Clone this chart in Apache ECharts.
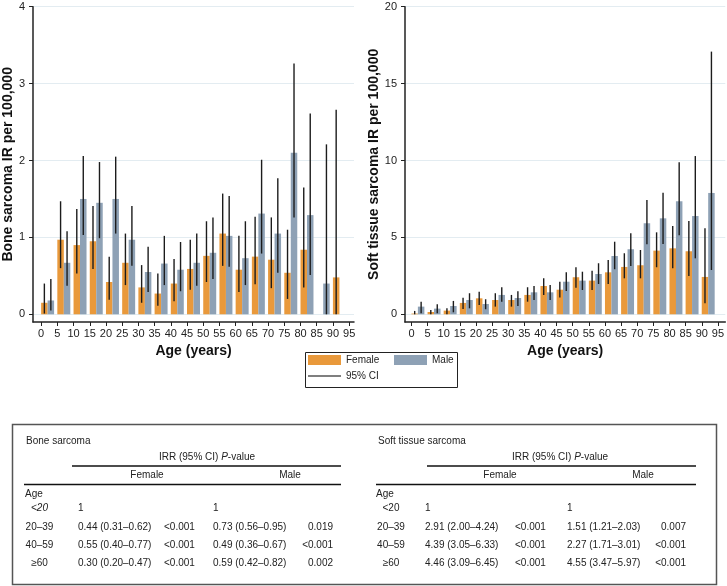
<!DOCTYPE html>
<html>
<head>
<meta charset="utf-8">
<title>Sarcoma IR by age</title>
<script src="https://cdn.jsdelivr.net/npm/echarts@6/dist/echarts.min.js"></script>
<style>
html, body { margin: 0; padding: 0; background: #fff; }
#main { width: 727px; height: 586px; }
</style>
</head>
<body>
<div id="main"></div>
<script>
// age groups (start of each 5-year band) and axis ticks
var ages = [0, 5, 10, 15, 20, 25, 30, 35, 40, 45, 50, 55, 60, 65, 70, 75, 80, 85, 90];
var ageTicks = [0, 5, 10, 15, 20, 25, 30, 35, 40, 45, 50, 55, 60, 65, 70, 75, 80, 85, 90, 95];
var boneTicks = [0, 1, 2, 3, 4];
var softTicks = [0, 5, 10, 15, 20];

// bone sarcoma IR per 100,000
var boneFemale     = [0.15, 0.97, 0.90, 0.95, 0.42, 0.67, 0.35, 0.27, 0.40, 0.59, 0.76, 1.05, 0.58, 0.75, 0.71, 0.54, 0.84, null, 0.48];
var boneFemaleLow  = [0.01, 0.60, 0.53, 0.59, 0.19, 0.38, 0.15, 0.11, 0.17, 0.32, 0.42, 0.63, 0.29, 0.39, 0.34, 0.20, 0.35, null, 0.00];
var boneFemaleHigh = [0.40, 1.47, 1.37, 1.41, 0.75, 1.05, 0.64, 0.53, 0.72, 0.97, 1.21, 1.57, 1.02, 1.27, 1.26, 1.10, 1.65, null, 2.66];
var boneMale       = [0.18, 0.67, 1.50, 1.45, 1.50, 0.97, 0.55, 0.66, 0.58, 0.67, 0.80, 1.02, 0.73, 1.31, 1.05, 2.10, 1.29, 0.40, null];
var boneMaleLow    = [0.05, 0.37, 1.03, 0.99, 1.05, 0.63, 0.29, 0.38, 0.30, 0.37, 0.46, 0.62, 0.38, 0.79, 0.54, 1.26, 0.51, 0.00, null];
var boneMaleHigh   = [0.46, 1.08, 2.06, 1.98, 2.05, 1.41, 0.88, 1.02, 0.94, 1.05, 1.26, 1.54, 1.21, 2.01, 1.77, 3.26, 2.61, 2.21, null];

// soft tissue sarcoma IR per 100,000
var softFemale     = [0.05, 0.15, 0.24, 0.74, 1.04, 0.93, 0.93, 1.26, 1.84, 1.60, 2.41, 2.19, 2.73, 3.08, 3.19, 4.14, 4.29, 4.10, 2.43];
var softFemaleLow  = [0.00, 0.00, 0.00, 0.35, 0.61, 0.50, 0.50, 0.82, 1.26, 1.10, 1.73, 1.58, 1.97, 2.34, 2.34, 3.06, 2.99, 2.49, 0.72];
var softFemaleHigh = [0.22, 0.28, 0.39, 1.08, 1.47, 1.37, 1.26, 1.76, 2.34, 2.12, 3.06, 2.84, 3.53, 3.97, 4.18, 5.33, 5.74, 6.07, 5.59];
var softMale       = [0.50, 0.37, 0.54, 0.93, 0.67, 1.26, 1.06, 1.43, 1.43, 2.12, 2.19, 2.62, 3.79, 4.23, 5.92, 6.24, 7.35, 6.39, 7.89];
var softMaleLow    = [0.07, 0.07, 0.13, 0.39, 0.33, 0.82, 0.54, 0.93, 0.93, 1.52, 1.58, 1.97, 2.93, 3.14, 4.55, 4.57, 5.14, 3.64, 2.88];
var softMaleHigh   = [0.82, 0.65, 0.87, 1.37, 0.98, 1.76, 1.50, 1.84, 1.91, 2.73, 2.77, 3.32, 4.72, 5.27, 7.43, 7.91, 9.88, 10.29, 17.08];

// IRR table
var tableHead = ['Female', 'Male'];
var ageRows = ['<20', '20–39', '40–59', '≥60'];
var boneRows = [
    ['1', '', '1', ''],
    ['0.44 (0.31–0.62)', '<0.001', '0.73 (0.56–0.95)', '0.019'],
    ['0.55 (0.40–0.77)', '<0.001', '0.49 (0.36–0.67)', '<0.001'],
    ['0.30 (0.20–0.47)', '<0.001', '0.59 (0.42–0.82)', '0.002']
];
var softRows = [
    ['1', '', '1', ''],
    ['2.91 (2.00–4.24)', '<0.001', '1.51 (1.21–2.03)', '0.007'],
    ['4.39 (3.05–6.33)', '<0.001', '2.27 (1.71–3.01)', '<0.001'],
    ['4.46 (3.09–6.45)', '<0.001', '4.55 (3.47–5.97)', '<0.001']
];

var FONT = '"Liberation Sans", Arial, sans-serif';
var ORANGE = '#E9993B';
var BLUE = '#8EA1B5';
var FEMALE_SHIFT = 1, MALE_SHIFT = 3;   // bars sit right of the group tick

function barData(vals, shift) {
    return ages.map(function(a, i) {
        return [a + shift, vals[i] == null ? '-' : vals[i]];
    });
}

function ciData(lo, hi, shift, out) {
    ages.forEach(function(a, i) {
        if (lo[i] != null) out.push([a + shift, lo[i], hi[i]]);
    });
    return out;
}

function renderCI(params, api) {
    var p1 = api.coord([api.value(0), api.value(1)]);
    var p2 = api.coord([api.value(0), api.value(2)]);
    return {
        type: 'line',
        shape: { x1: p1[0], y1: p1[1], x2: p2[0], y2: p2[1] },
        style: { stroke: '#1c1c1c', lineWidth: 1.4 }
    };
}

function xAxisFor(idx, min, max) {
    return {
        gridIndex: idx,
        type: 'value',
        min: min,
        max: max,
        name: 'Age (years)',
        nameLocation: 'middle',
        nameGap: 21,
        nameTextStyle: { fontFamily: FONT, fontWeight: 'bold', fontSize: 14, color: '#111' },
        axisLine: { onZero: false, lineStyle: { color: '#222', width: 1.5 } },
        axisTick: { customValues: ageTicks, length: 4, lineStyle: { color: '#222' } },
        axisLabel: { customValues: ageTicks, fontFamily: FONT, fontSize: 11, color: '#222', margin: 6 },
        splitLine: { show: false }
    };
}

function yAxisFor(idx, min, max, ticks, name, gap) {
    return {
        gridIndex: idx,
        type: 'value',
        min: min,
        max: max,
        name: name,
        nameLocation: 'middle',
        nameGap: gap,
        nameTextStyle: { fontFamily: FONT, fontWeight: 'bold', fontSize: 14, color: '#111' },
        axisLine: { show: true, onZero: false, lineStyle: { color: '#222', width: 1.5 } },
        axisTick: { show: true, customValues: ticks, length: 4, lineStyle: { color: '#222' } },
        axisLabel: { customValues: ticks, fontFamily: FONT, fontSize: 11, color: '#222', margin: 8 },
        splitLine: { show: true, lineStyle: { color: '#E3ECF1' } }
    };
}

function seriesFor(idx, fem, femLo, femHi, male, maleLo, maleHi) {
    var ci = [];
    ciData(femLo, femHi, FEMALE_SHIFT, ci);
    ciData(maleLo, maleHi, MALE_SHIFT, ci);
    return [{
        name: 'Female',
        type: 'bar',
        xAxisIndex: idx, yAxisIndex: idx,
        barWidth: 6.5,
        barGap: '-100%',
        itemStyle: { color: ORANGE },
        data: barData(fem, FEMALE_SHIFT)
    }, {
        name: 'Male',
        type: 'bar',
        xAxisIndex: idx, yAxisIndex: idx,
        barWidth: 6.5,
        barGap: '-100%',
        itemStyle: { color: BLUE },
        data: barData(male, MALE_SHIFT)
    }, {
        name: '95% CI',
        type: 'custom',
        xAxisIndex: idx, yAxisIndex: idx,
        z: 5,
        itemStyle: { color: '#555' },
        encode: { x: 0, y: [1, 2] },
        renderItem: renderCI,
        data: ci
    }];
}

function txt(s, x, y, align, extra) {
    var style = {
        text: s, x: x, y: y, fill: '#222',
        font: '10px ' + FONT,
        align: align, verticalAlign: 'middle',
        textAlign: align, textVerticalAlign: 'middle'
    };
    if (extra) for (var k in extra) style[k] = extra[k];
    return { type: 'text', style: style, silent: true };
}

function hline(x1, x2, y) {
    return {
        type: 'line', silent: true,
        shape: { x1: x1, y1: y, x2: x2, y2: y },
        style: { stroke: '#111', lineWidth: 1.3 }
    };
}

function tableGraphics(title, rows, t, italicLow) {
    var els = [];
    var rowY = [508.5, 527.5, 545.5, 563.5];
    els.push(txt(title, t.titleX, 441, 'left'));
    els.push({
        type: 'text', silent: true,
        style: {
            text: '{a|IRR (95% CI) }{b|P}{a|-value}',
            x: t.headCx, y: 457.5,
            align: 'center', verticalAlign: 'middle',
            textAlign: 'center', textVerticalAlign: 'middle',
            rich: {
                a: { fontFamily: FONT, fontSize: 10, fill: '#222', color: '#222' },
                b: { fontFamily: FONT, fontSize: 10, fontStyle: 'italic', fill: '#222', color: '#222' }
            }
        }
    });
    els.push(hline(t.line1[0], t.line1[1], 466));
    els.push(txt(tableHead[0], t.fCx, 475, 'center'));
    els.push(txt(tableHead[1], t.mCx, 475, 'center'));
    els.push(hline(t.line2[0], t.line2[1], 484.5));
    els.push(txt('Age', t.ageX, 494.5, 'left'));
    rows.forEach(function(r, i) {
        var y = rowY[i];
        var extra = (i === 0 && italicLow) ? { font: 'italic 10px ' + FONT } : null;
        els.push(txt(ageRows[i], t.ageCx, y, 'center', extra));
        els.push(txt(r[0], t.fEst, y, 'left'));
        els.push(txt(r[1], t.fP, y, 'left'));
        els.push(txt(r[2], t.mEst, y, 'left'));
        els.push(txt(r[3], t.mPR, y, 'right'));
    });
    return els;
}

var chart = echarts.init(document.getElementById('main'));

var graphics = [{
    type: 'rect', silent: true,
    shape: { x: 305.5, y: 352.5, width: 152, height: 35 },
    style: { fill: 'none', stroke: '#222', lineWidth: 1 }
}, {
    type: 'rect', silent: true,
    shape: { x: 12.5, y: 424.5, width: 704, height: 160 },
    style: { fill: 'none', stroke: '#555', lineWidth: 1.5 }
}];

graphics = graphics.concat(tableGraphics('Bone sarcoma', boneRows, {
    titleX: 26, ageX: 25, ageCx: 39.5, fEst: 78, fP: 164, mEst: 213, mPR: 333,
    line1: [72, 341], line2: [24, 341], headCx: 207, fCx: 147, mCx: 290
}, true));
graphics = graphics.concat(tableGraphics('Soft tissue sarcoma', softRows, {
    titleX: 378, ageX: 376, ageCx: 391, fEst: 425, fP: 515, mEst: 567, mPR: 686,
    line1: [427, 696], line2: [376, 696], headCx: 560, fCx: 500, mCx: 643
}, false));

var legendText = { fontFamily: FONT, fontSize: 10, color: '#222' };

option = {
    backgroundColor: '#fff',
    animation: false,
    textStyle: { fontFamily: FONT },
    grid: [
        { left: 33, top: 6.7, width: 321, height: 315.3 },
        { left: 405, top: 6.7, width: 322, height: 315.3 }
    ],
    legend: [
        { data: ['Female'], left: 308, top: 355, padding: 0, icon: 'rect', itemWidth: 33, itemHeight: 10, selectedMode: false, textStyle: legendText },
        { data: ['Male'], left: 394, top: 355, padding: 0, icon: 'rect', itemWidth: 33, itemHeight: 10, selectedMode: false, textStyle: legendText },
        { data: ['95% CI'], left: 308, top: 371, padding: 0, icon: 'rect', itemWidth: 33, itemHeight: 1.5, selectedMode: false, textStyle: legendText }
    ],
    xAxis: [xAxisFor(0, -2.5, 96.5), xAxisFor(1, -2, 97.3)],
    yAxis: [
        yAxisFor(0, -0.1, 4, boneTicks, 'Bone sarcoma IR per 100,000', 13),
        yAxisFor(1, -0.5, 20, softTicks, 'Soft tissue sarcoma IR per 100,000', 23)
    ],
    series: seriesFor(0, boneFemale, boneFemaleLow, boneFemaleHigh, boneMale, boneMaleLow, boneMaleHigh)
        .concat(seriesFor(1, softFemale, softFemaleLow, softFemaleHigh, softMale, softMaleLow, softMaleHigh)),
    graphic: graphics
};

chart.setOption(option);

window.onresize = function() {
    chart.resize();
};
</script>
</body>
</html>
